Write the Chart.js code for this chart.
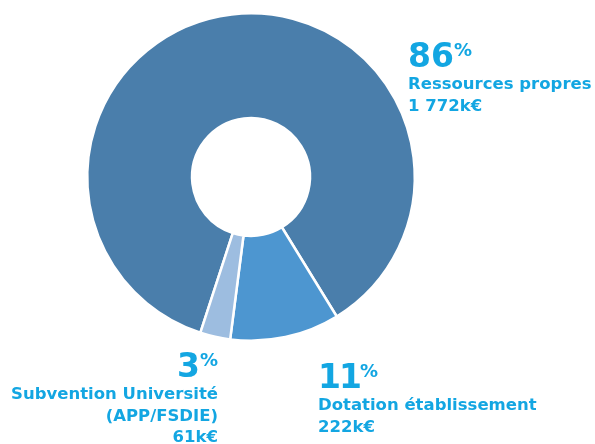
<!DOCTYPE html>
<html>
<head>
<meta charset="utf-8">
<script src="https://cdn.jsdelivr.net/npm/chart.js@4"></script>
<style>
  html, body { margin: 0; padding: 0; background: #fff; }
  #wrap { width: 595px; height: 444px; }
</style>
</head>
<body>
<div id="wrap"><canvas id="chart" width="595" height="444"></canvas></div>
<script>
const labels = ["Ressources propres", "Dotation établissement", "Subvention Université (APP/FSDIE)"];
const amounts = [1772, 222, 61];
const percents = ["86", "11", "3"];
const amountLabels = ["1 772k€", "222k€", "61k€"];
const colors = ["#4a7eab", "#4d96d0", "#9dbde0"];

const textColor = "#13a6e2";

// callout text for each slice
const callouts = [
  { x: 408, y: 67, align: "left", lines: ["Ressources propres", amountLabels[0]] },
  { x: 318, y: 388, align: "left", lines: ["Dotation établissement", amountLabels[1]] },
  { x: 218, y: 377, align: "right", lines: ["Subvention Université", "(APP/FSDIE)", amountLabels[2]] },
];

const stretch = 1.1; // label font is wider than DejaVu

const calloutPlugin = {
  id: "callouts",
  afterDraw(chart) {
    const ctx = chart.ctx;
    ctx.save();
    ctx.fillStyle = textColor;
    ctx.textBaseline = "alphabetic";
    callouts.forEach((c, i) => {
      const bigFont = "bold 33px 'DejaVu Sans'";
      const pctFont = "bold 18px 'DejaVu Sans'";
      const sp = percents[i] === "11" ? "-2px" : "0px";
      ctx.letterSpacing = sp;
      ctx.font = bigFont;
      const numW = ctx.measureText(percents[i]).width;
      ctx.letterSpacing = "0px";
      ctx.font = pctFont;
      const pctW = ctx.measureText("%").width;
      let x0 = c.align === "left" ? c.x : c.x - numW - pctW;
      ctx.textAlign = "left";
      ctx.font = bigFont;
      ctx.letterSpacing = sp;
      ctx.fillText(percents[i], x0, c.y);
      ctx.letterSpacing = "0px";
      ctx.font = pctFont;
      ctx.fillText("%", x0 + numW, c.y - 11);

      ctx.font = "bold 15px 'DejaVu Sans'";
      ctx.textAlign = c.align;
      c.lines.forEach((line, j) => {
        ctx.save();
        ctx.translate(c.x, c.y + 22 + j * 21.5);
        ctx.scale(stretch, 1);
        ctx.fillText(line, 0, 0);
        ctx.restore();
      });
    });
    ctx.restore();
  },
};

new Chart(document.getElementById("chart").getContext("2d"), {
  type: "doughnut",
  data: {
    labels: labels,
    datasets: [
      {
        data: amounts,
        backgroundColor: colors,
        borderColor: "#ffffff",
        borderWidth: 2.5,
      },
    ],
  },
  options: {
    responsive: false,
    animation: false,
    cutout: "36%",
    rotation: -162,
    layout: { padding: { left: 86, right: 179, top: 11, bottom: 101 } },
    plugins: {
      legend: { display: false },
      tooltip: { enabled: false },
    },
  },
  plugins: [calloutPlugin],
});
</script>
</body>
</html>
